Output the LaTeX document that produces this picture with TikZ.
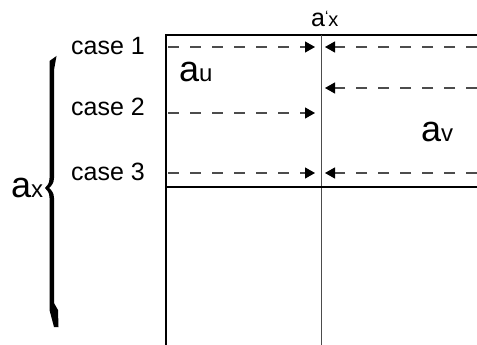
\documentclass[tikz,border=0pt]{standalone}
\usepackage{fontspec}
\setmainfont{Liberation Sans}
\usetikzlibrary{arrows.meta}
\begin{document}
\begin{tikzpicture}[x=1pt,y=-1pt,
  frame/.style={line width=1.4pt, draw=black},
  divline/.style={line width=1pt, draw=black!70},
  darr/.style={draw=black!70, line width=1.2pt, dash pattern=on 11pt off 11pt,
    -{Triangle[length=10pt,width=11pt,color=black]}},
  lbl/.style={inner sep=0pt, anchor=base west, font=\fontsize{25}{27}\selectfont},
  sym/.style={inner sep=0pt, anchor=base west}]
\useasboundingbox (0,0) rectangle (477,345);
% frame coordinates
\coordinate (tl) at (165,35);
\coordinate (tr) at (477,35);
\coordinate (lt) at (166,34.3);
\coordinate (lb) at (166,345);
\coordinate (mt) at (321,35);
\coordinate (mb) at (321,345);
\coordinate (hl) at (166,187);
\coordinate (hr) at (477,187);
\draw[frame] (tl) -- (tr);
\draw[frame, line width=1.8pt] (lt) -- (lb);
\draw[divline] (mt) -- (mb);
\draw[line width=1.2pt] (hl) -- (hr);
% arrow end points
\coordinate (l1s) at (168,47);  \coordinate (l1e) at (315,47);
\coordinate (r1s) at (477,47);  \coordinate (r1e) at (325,47);
\coordinate (r2s) at (477,88);  \coordinate (r2e) at (325,88);
\coordinate (l2s) at (168,113); \coordinate (l2e) at (315,113);
\coordinate (l3s) at (168,173); \coordinate (l3e) at (315,173);
\coordinate (r3s) at (477,173); \coordinate (r3e) at (325,173);
\draw[darr] (l1s) -- (l1e);
\draw[darr] (r1s) -- (r1e);
\draw[darr] (r2s) -- (r2e);
\draw[darr] (l2s) -- (l2e);
\draw[darr] (l3s) -- (l3e);
\draw[darr] (r3s) -- (r3e);
% labels
\node[lbl] (caseA) at (71,55) {case 1};
\node[lbl] (caseB) at (71,115) {case 2};
\node[lbl] (caseC) at (71,180) {case 3};
\node[sym] (au) at (179,82) {{\fontsize{36}{38}\selectfont a}{\fontsize{24}{26}\selectfont u}};
\node[sym] (av) at (421,142) {{\fontsize{36}{38}\selectfont a}{\fontsize{24}{26}\selectfont v}};
\node[sym] (ax) at (11,197) {{\fontsize{36}{38}\selectfont a}{\fontsize{24}{26}\selectfont x}};
\node[sym] (axp) at (311,27) {{\fontsize{25}{27}\selectfont a}{\fontsize{15}{16}\selectfont\raisebox{5pt}{‘}}{\fontsize{20}{22}\selectfont x}};
% brace
\fill (49.5,61) -- (56.5,56) -- (54,70) -- (54,178)
  .. controls (54,183) and (51.5,186) .. (49,188)
  .. controls (51.5,190) and (54,193) .. (54,198)
  -- (54,303) -- (58,310) -- (58.5,327) -- (54,327) -- (49.5,310) -- (49.5,198)
  .. controls (49.5,193) and (47.5,190) .. (45,188)
  .. controls (47.5,186) and (49.5,183) .. (49.5,178) -- (49.5,70) -- cycle;
\end{tikzpicture}
\end{document}
